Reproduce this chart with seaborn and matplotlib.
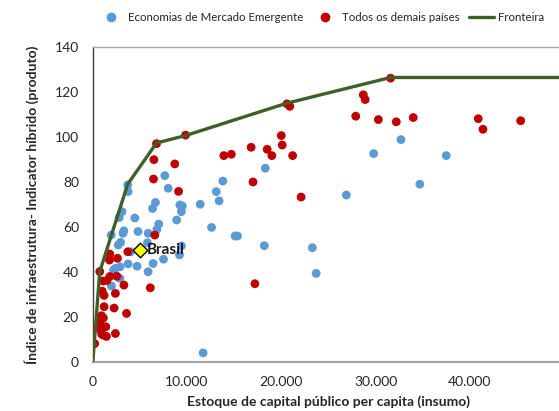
import numpy as np
import pandas as pd
import matplotlib.pyplot as plt
from matplotlib.lines import Line2D
import seaborn as sns

# valores (x em milhares)
red_x = [45.4, 40.9, 41.4, 34.0, 32.2, 30.3, 27.9, 28.7, 28.9, 31.6,
         20.6, 20.9, 20.0, 20.1, 16.8, 18.5, 19.0, 21.2, 14.7, 13.9, 17.0, 22.1, 17.2,
         6.76, 9.84, 6.48, 8.7, 6.44, 9.1, 6.58,
         3.72, 1.8, 1.77, 2.62,
         0.74, 1.8, 2.55, 1.1, 1.5, 3.3, 6.1, 1.0, 2.4, 1.2, 1.2, 2.26, 3.58, 0.92,
         1.12, 0.74, 1.38, 0.17, 0.85, 2.4, 1.1, 1.45, 0.95, 0.2]
red_y = [107.2, 108.1, 103.4, 108.6, 106.7, 107.7, 109.2, 118.7, 116.6, 126.1,
         114.7, 113.6, 100.6, 96.4, 95.4, 94.5, 91.7, 91.7, 92.3, 91.7, 80.0, 73.3, 34.8,
         97.0, 100.8, 89.9, 88.0, 81.3, 75.8, 56.4,
         49.0, 48.0, 45.3, 46.1,
         40.2, 38.0, 38.1, 36.0, 36.2, 34.2, 33.0, 31.5, 30.5, 29.6, 24.6, 24.0, 21.6, 20.6,
         19.6, 17.7, 15.7, 15.1, 14.2, 12.7, 12.0, 11.4, 12.4, 8.2]

blue_x = [32.7, 29.8, 37.5, 34.7,
          18.3, 13.8, 13.1, 13.4, 11.4, 26.9, 12.6, 15.1, 15.35, 18.2, 23.3, 23.7, 11.7,
          7.64, 8.0, 6.65, 6.34, 9.24, 9.5, 9.4, 8.9, 7.0, 6.8, 5.8, 9.4, 9.2, 7.5, 6.4,
          3.7, 3.75, 3.1, 2.8, 4.46, 4.8, 3.3, 3.2, 5.87, 1.95, 2.95, 2.7, 4.0,
          3.75, 4.7, 2.9, 2.4, 2.2, 5.87, 2.87, 1.98]
blue_y = [98.8, 92.6, 91.7, 79.0,
          86.1, 80.4, 75.7, 71.6, 70.1, 74.2, 59.8, 56.0, 56.0, 51.7, 50.8, 39.4, 4.1,
          82.8, 77.2, 70.9, 68.2, 69.8, 69.3, 66.8, 63.1, 61.3, 58.9, 53.0, 51.6, 47.6, 45.7, 43.8,
          78.7, 75.7, 66.8, 64.2, 64.0, 58.0, 58.3, 57.2, 57.2, 56.4, 53.2, 52.0, 49.0,
          43.6, 42.6, 42.3, 41.6, 40.9, 40.1, 37.2, 33.8]

frontier_x = [0, 0.74, 3.7, 6.76, 9.84, 20.6, 31.6, 50.0]
frontier_y = [0, 40.2, 79.0, 97.3, 100.6, 115.0, 126.4, 126.4]

brasil_x = [5.06]
brasil_y = [49.8]

xticks = [0, 10000, 20000, 30000, 40000]
xtick_labels = ['0', '10.000', '20.000', '30.000', '40.000']

sns.set_style('white')
plt.rcParams['font.family'] = ['Lato', 'DejaVu Sans']

fig = plt.figure(figsize=(5.59, 4.11), dpi=100)
ax = fig.add_axes([0.166, 0.119, 0.843, 0.767])

blue_c = '#5B9BD5'
red_c = '#C00000'
green_c = '#3F5F27'

sns.scatterplot(x=np.array(blue_x) * 1000, y=blue_y, color=blue_c, s=40,
                edgecolor='none', ax=ax, zorder=3)
sns.scatterplot(x=np.array(red_x) * 1000, y=red_y, color=red_c, s=40,
                edgecolor='none', ax=ax, zorder=3)
sns.lineplot(x=np.array(frontier_x) * 1000, y=frontier_y, sort=False, color=green_c,
             linewidth=2.4, ax=ax, zorder=4)
sns.scatterplot(x=np.array(brasil_x) * 1000, y=brasil_y, marker='D', color='#FFFF00',
                edgecolor='black', linewidth=1, s=55, ax=ax, zorder=5)
ax.text(brasil_x[0] * 1000 + 700, brasil_y[0], 'Brasil', fontsize=11, fontweight='bold',
        va='center', ha='left', color='#1a1a1a', zorder=6)

ax.set_xlim(0, 50000)
ax.set_ylim(0, 140)
ax.set_yticks(range(0, 141, 20))
ax.set_xticks(xticks)
ax.set_xticklabels(xtick_labels)
ax.tick_params(axis='both', labelsize=10, colors='#595959', labelcolor='#262626',
               length=4, width=1, direction='out')
ax.tick_params(axis='x', pad=6)
ax.tick_params(axis='y', pad=6)

ax.spines['left'].set_color('#404040')
ax.spines['left'].set_linewidth(1.0)
ax.spines['bottom'].set_color('#A6A6A6')
ax.spines['bottom'].set_linewidth(1.6)
ax.spines['top'].set_color('#A6A6A6')
ax.spines['top'].set_linewidth(1.0)
ax.spines['right'].set_visible(False)

ax.set_xlabel('Estoque de capital público per capita (insumo)', fontsize=10,
              fontweight='bold', color='#262626', labelpad=5)
ax.set_ylabel('Índice de infraestrutura- Indicator híbrido (produto)', fontsize=10,
              fontweight='bold', color='#262626', labelpad=11)

handles = [Line2D([], [], marker='o', linestyle='none', color=blue_c, markersize=6),
           Line2D([], [], marker='o', linestyle='none', color=red_c, markersize=6),
           Line2D([], [], color=green_c, linewidth=2.4)]
labels = ['Economias de Mercado Emergente', 'Todos os demais países', 'Fronteira']
fig.legend(handles, labels, loc='center', bbox_to_anchor=(0.575, 0.958), ncol=3,
           frameon=False, fontsize=8.3, columnspacing=0.8, handlelength=2.2,
           handletextpad=0.35, labelcolor='#262626')

fig.savefig('out.png', dpi=100)
